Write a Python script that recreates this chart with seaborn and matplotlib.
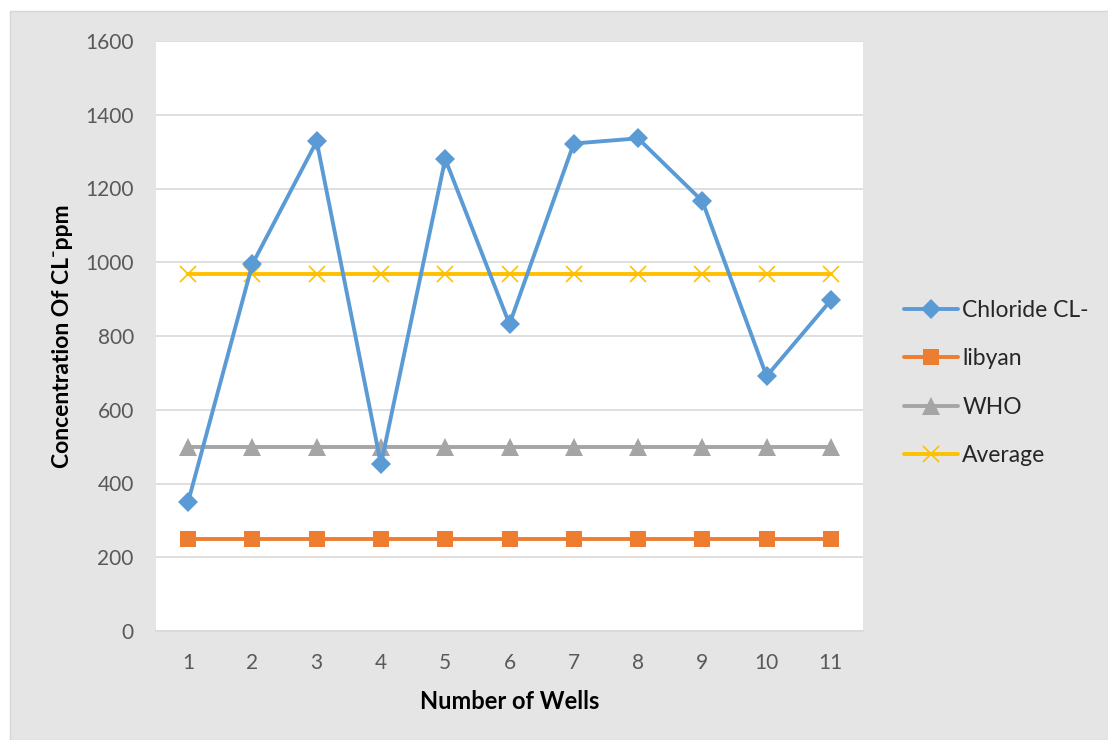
import matplotlib
matplotlib.use("Agg")
import matplotlib.pyplot as plt
from matplotlib.patches import Rectangle
import seaborn as sns
import pandas as pd

# Chloride concentration per well (ppm) and reference limits
wells = [1, 2, 3, 4, 5, 6, 7, 8, 9, 10, 11]
chloride = [350, 995, 1328, 452, 1280, 832, 1322, 1336, 1166, 691, 897]
libyan = [250] * 11
who = [500] * 11
average = [968] * 11

series_names = ["Chloride CL-", "libyan", "WHO", "Average"]
y_ticks = [0, 200, 400, 600, 800, 1000, 1200, 1400, 1600]

sns.set_theme(style="white")
plt.rcParams["font.family"] = ["Lato", "DejaVu Sans"]

df = pd.DataFrame({
    "well": wells * 4,
    "value": chloride + libyan + who + average,
    "series": sum([[n] * len(wells) for n in series_names], []),
})

fig = plt.figure(figsize=(11.08, 7.40), dpi=100, facecolor="white")
# chart-area panel behind the axes
fig.patches.append(Rectangle((10 / 1108, 0), 1 - 10 / 1108, 1 - 11 / 740,
                             transform=fig.transFigure, facecolor="#e5e5e5",
                             edgecolor="#d6d6d6", linewidth=1.0, zorder=-10))

ax = fig.add_axes([156 / 1108, 1 - 631 / 740, (863 - 156) / 1108, (631 - 41) / 740])
ax.set_zorder(5)
ax.set_facecolor("white")

styles = {
    "Chloride CL-": dict(color="#5B9BD5", marker="D", ms=10, mew=0, lw=2.8),
    "libyan": dict(color="#ED7D31", marker="s", ms=12, mew=0, lw=2.8),
    "WHO": dict(color="#A5A5A5", marker="^", ms=13, mew=0, lw=2.8),
    "Average": dict(color="#FFC000", marker="x", ms=12, mew=1.2, lw=2.8),
}
order = ["libyan", "WHO", "Average", "Chloride CL-"]
for name in order:
    st = styles[name]
    sub = df[df["series"] == name]
    sns.lineplot(data=sub, x="well", y="value", ax=ax, sort=False,
                 color=st["color"], linewidth=st["lw"], marker=st["marker"],
                 markersize=st["ms"], markeredgewidth=st["mew"],
                 markeredgecolor=st["color"], label=name, zorder=3)

ax.set_xlim(0.5, 11.5)
ax.set_ylim(0, 1600)
ax.set_yticks(y_ticks)
ax.set_xticks(wells)
ax.grid(axis="y", color="#d9d9d9", linewidth=1.2)
ax.set_axisbelow(True)
for s in ["left", "right", "top"]:
    ax.spines[s].set_visible(False)
ax.spines["bottom"].set_color("#d9d9d9")
ax.spines["bottom"].set_linewidth(1.2)
ax.tick_params(axis="both", length=0, labelsize=15, colors="#595959")
ax.tick_params(axis="x", pad=16)
ax.tick_params(axis="y", pad=16)

ax.set_xlabel("Number of Wells", fontsize=17, fontweight="bold", color="black", labelpad=12)
ax.set_ylabel("Concentration Of CL\u207bppm", fontsize=16.5, fontweight="bold",
              color="black", labelpad=9)

handles, labels = ax.get_legend_handles_labels()
hmap = dict(zip(labels, handles))
ax.legend([hmap[n] for n in series_names], series_names,
          loc="center left", bbox_to_anchor=(1.045, 0.42), frameon=False,
          fontsize=16.5, labelspacing=1.2, handlelength=2.35, handletextpad=0.2,
          borderaxespad=0)

fig.savefig("out.png", dpi=100, facecolor="white")
